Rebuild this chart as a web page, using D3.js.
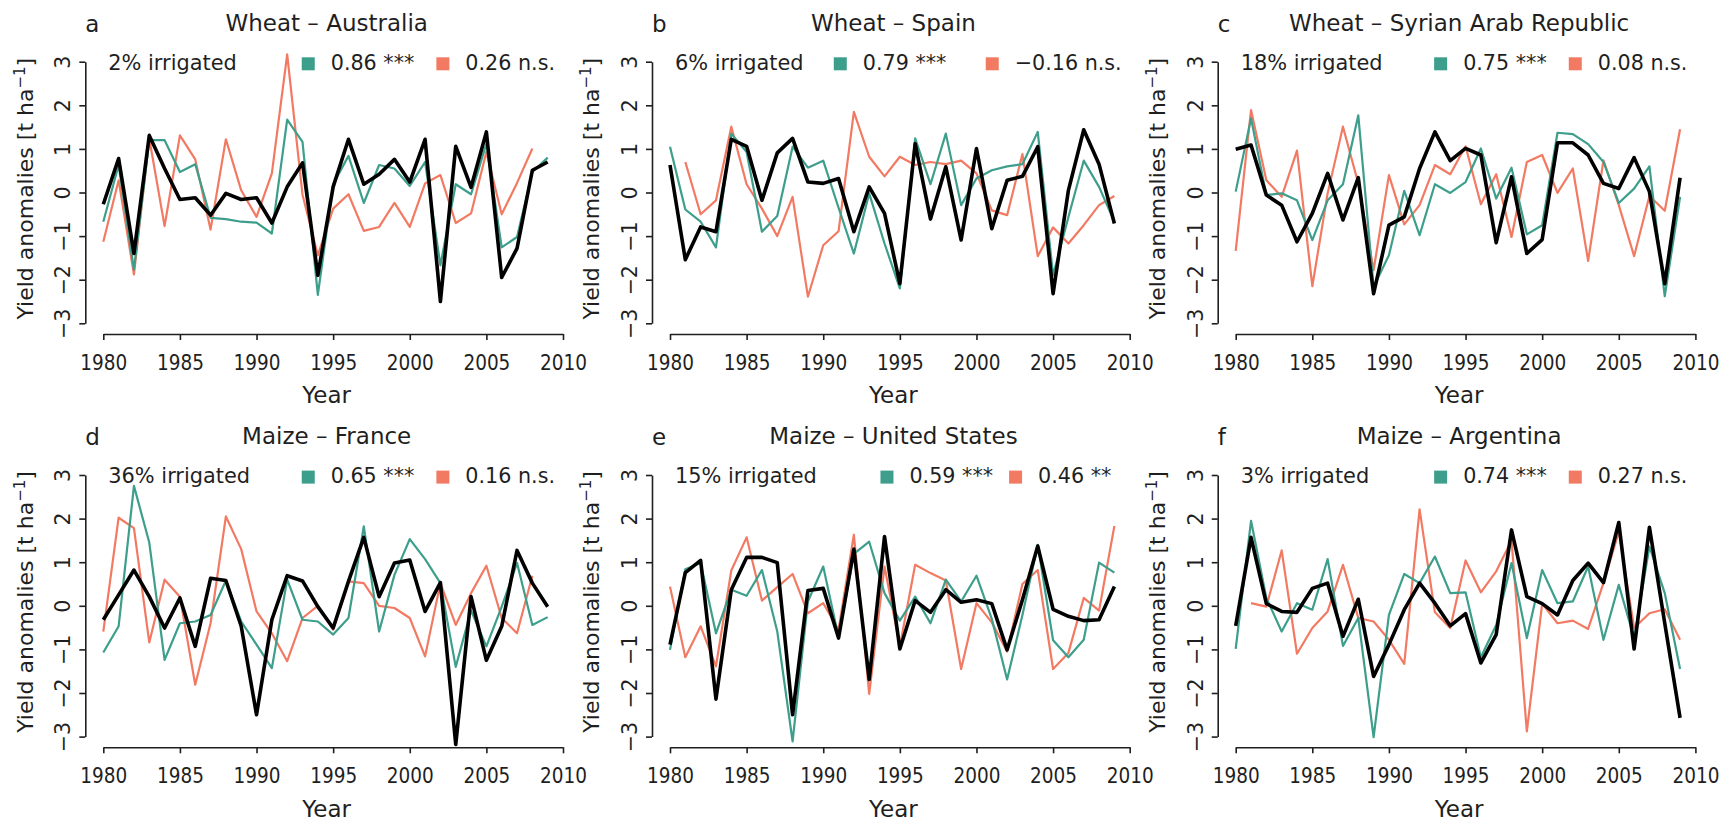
<!DOCTYPE html>
<html>
<head>
<meta charset="utf-8">
<script src="https://cdn.jsdelivr.net/npm/d3@7/dist/d3.min.js"></script>
<style>
  body { margin: 0; background: #fff; }
  text { font-family: "DejaVu Sans", "Bitstream Vera Sans", sans-serif; fill: #1f1f1f; }
</style>
</head>
<body>
<svg id="chart" width="1728" height="823"></svg>
<script>
// ---- data -------------------------------------------------------------
const years = [1980,1981,1982,1983,1984,1985,1986,1987,1988,1989,
               1990,1991,1992,1993,1994,1995,1996,1997,1998,1999,
               2000,2001,2002,2003,2004,2005,2006,2007,2008,2009];
const xTickYears = [1980, 1985, 1990, 1995, 2000, 2005, 2010];
const yTickValues = [-3, -2, -1, 0, 1, 2, 3];

const panelLetters = ["a", "b", "c", "d", "e", "f"];
const panelTitles = ["Wheat \u2013 Australia", "Wheat \u2013 Spain", "Wheat \u2013 Syrian Arab Republic",
                     "Maize \u2013 France", "Maize \u2013 United States", "Maize \u2013 Argentina"];
const irrigatedLabels = ["2% irrigated", "6% irrigated", "18% irrigated",
                         "36% irrigated", "15% irrigated", "3% irrigated"];
const greenCorr = ["0.86 ***", "0.79 ***", "0.75 ***", "0.65 ***", "0.59 ***", "0.74 ***"];
const redCorr = ["0.26 n.s.", "\u22120.16 n.s.", "0.08 n.s.", "0.16 n.s.", "0.46 **", "0.27 n.s."];

// Wheat – Australia
const ausObserved = [-0.27,0.78,-1.4,1.31,0.55,-0.16,-0.12,-0.52,-0.02,-0.16,
                     -0.12,-0.7,0.13,0.68,-1.9,0.13,1.22,0.19,0.42,0.76,
                     0.24,1.22,-2.5,1.06,0.12,1.39,-1.95,-1.28,0.51,0.7];
const ausGreen = [-0.67,0.63,-1.77,1.2,1.2,0.47,0.65,-0.58,-0.61,-0.67,
                  -0.69,-0.94,1.67,1.16,-2.35,0.19,0.84,-0.24,0.63,0.55,
                  0.15,0.7,-1.67,0.19,-0.04,1.12,-1.26,-1.02,0.47,0.8];
const ausRed = [-1.13,0.28,-1.88,1.24,-0.77,1.31,0.76,-0.85,1.22,0.05,
                -0.56,0.44,3.17,-0.05,-1.44,-0.37,-0.04,-0.88,-0.79,-0.24,
                -0.79,0.21,0.4,-0.7,-0.48,0.93,-0.5,0.22,1.01,null];

// Wheat – Spain
const espObserved = [0.63,-1.54,-0.79,-0.9,1.22,1.06,-0.18,0.91,1.24,0.24,
                     0.21,0.32,-0.9,0.13,-0.48,-2.09,1.12,-0.61,0.59,-1.09,
                     1.01,-0.83,0.28,0.37,1.05,-2.32,0.05,1.44,0.65,-0.71];
const espGreen = [1.05,-0.39,-0.67,-1.26,1.35,0.93,-0.9,-0.54,1.05,0.57,
                  0.73,-0.35,-1.4,-0.02,-1.17,-2.2,1.24,0.19,1.35,-0.29,
                  0.32,0.51,0.6,0.65,1.39,-1.9,-0.56,0.73,0.13,-0.67];
const espRed = [null,0.7,-0.5,-0.18,1.51,0.19,-0.37,-1.0,-0.1,-2.39,
                -1.21,-0.89,1.85,0.82,0.37,0.82,0.63,0.7,0.65,0.73,
                0.44,-0.41,-0.52,0.88,-1.46,-0.8,-1.17,-0.75,-0.29,-0.08];

// Wheat – Syrian Arab Republic
const syrObserved = [0.99,1.09,-0.06,-0.29,-1.13,-0.48,0.44,-0.63,0.34,-2.32,
                     -0.75,-0.56,0.55,1.39,0.73,1.01,0.86,-1.15,0.36,-1.4,
                     -1.08,1.14,1.14,0.86,0.21,0.09,0.8,0.02,-2.09,0.34];
const syrGreen = [0.02,1.7,-0.06,-0.02,-0.18,-1.09,-0.18,0.19,1.77,-2.16,
                  -1.44,0.04,-0.98,0.19,-0.01,0.24,1.01,-0.14,0.57,-0.96,
                  -0.75,1.37,1.34,1.11,0.7,-0.24,0.09,0.6,-2.38,-0.1];
const syrRed = [-1.34,1.89,0.28,-0.1,0.96,-2.15,-0.02,1.51,0.21,-1.78,
                0.4,-0.73,-0.29,0.63,0.42,1.06,-0.27,0.42,-1.02,0.7,
                0.86,-0.01,0.55,-1.57,0.74,-0.29,-1.46,-0.08,-0.42,1.45];

// Maize – France
const fraObserved = [-0.32,0.25,0.82,0.21,-0.51,0.18,-0.93,0.63,0.58,-0.47,
                     -2.5,-0.32,0.69,0.57,-0.02,-0.51,0.56,1.57,0.21,0.98,
                     1.05,-0.13,0.53,-3.18,0.21,-1.25,-0.47,1.27,0.52,-0.02];
const fraGreen = [-1.07,-0.47,2.75,1.45,-1.24,-0.4,-0.36,-0.21,0.58,-0.36,
                  -0.89,-1.43,0.6,-0.32,-0.36,-0.66,-0.28,1.82,-0.59,0.71,
                  1.53,1.07,0.52,-1.4,-0.11,-0.93,-0.02,0.98,-0.44,-0.26];
const fraRed = [-0.59,2.02,1.78,-0.84,0.6,0.21,-1.81,-0.4,2.05,1.3,
                -0.13,-0.63,-1.27,-0.28,0.0,-0.55,0.56,0.52,0.0,-0.05,
                -0.28,-1.16,0.52,-0.44,0.29,0.92,-0.28,-0.63,0.69,null];

// Maize – United States
const usaObserved = [-0.89,0.76,1.04,-2.14,0.37,1.11,1.11,0.99,-2.5,0.35,
                     0.4,-0.74,1.3,-1.69,1.59,-0.99,0.12,-0.15,0.37,0.08,
                     0.14,0.05,-1.01,0.14,1.37,-0.08,-0.24,-0.34,-0.32,0.44];
const usaGreen = [-1.01,0.84,0.98,-0.63,0.37,0.23,0.82,-0.59,-3.11,0.1,
                  0.9,-0.72,1.19,1.47,0.29,-0.34,0.21,-0.4,0.6,0.1,
                  0.69,-0.3,-1.69,-0.21,1.4,-0.79,-1.18,-0.78,0.99,0.76];
const usaRed = [0.44,-1.18,-0.47,-1.39,0.81,1.57,0.12,0.43,0.73,-0.17,
                0.06,-0.55,1.63,-2.02,0.9,-0.93,0.94,0.75,0.58,-1.45,
                0.06,-0.38,-1.05,0.5,0.82,-1.45,-1.08,0.18,-0.11,1.83];

// Maize – Argentina
const argObserved = [-0.46,1.57,0.05,-0.13,-0.15,0.4,0.52,-0.7,0.15,-1.62,
                     -0.89,-0.09,0.52,0.06,-0.46,-0.18,-1.31,-0.66,1.74,0.21,
                     0.05,-0.21,0.58,0.98,0.53,1.91,-0.99,1.8,-0.4,-2.57];
const argGreen = [-0.99,1.95,0.18,-0.59,0.06,-0.09,1.07,-0.92,-0.28,-3.01,
                  -0.21,0.73,0.52,1.13,0.29,0.31,-1.18,-0.44,0.98,-0.74,
                  0.82,0.06,0.1,0.9,-0.78,0.48,-0.74,1.36,0.29,-1.45];
const argRed = [null,0.06,-0.02,1.27,-1.1,-0.51,-0.13,0.94,-0.28,-0.36,
                -0.78,-1.33,2.21,-0.15,-0.51,1.04,0.31,0.79,1.5,-2.88,
                0.05,-0.4,-0.34,-0.53,0.52,1.7,-0.51,-0.17,-0.08,-0.78];

const observedSeries = [ausObserved, espObserved, syrObserved, fraObserved, usaObserved, argObserved];
const greenSeries = [ausGreen, espGreen, syrGreen, fraGreen, usaGreen, argGreen];
const redSeries = [ausRed, espRed, syrRed, fraRed, usaRed, argRed];

// ---- layout & style ------------------------------------------------------
const colLeft = [103.3, 670, 1235.7];   // pixel of the first year tick in each column
const rowTop = [61.7, 475];             // pixel of the top y tick in each row
const plotW = 459.7;
const plotH = 261.6;
const spineGapX = 18;                   // y spine sits left of the first year
const spineGapY = 10.7;                 // x spine sits below the lowest y tick

const GREEN = "#3d9e8c";
const RED = "#f27a63";
const INK = "#1f1f1f";

const svg = d3.select("#chart");
svg.append("rect").attr("width", 1728).attr("height", 823).attr("fill", "#fff");

// horizontally squeezed text helper
function label(g, x, y, str, size, sx, anchor) {
  return g.append("text")
    .attr("transform", `translate(${x},${y}) scale(${sx},1)`)
    .attr("font-size", size)
    .attr("text-anchor", anchor || "start")
    .text(str);
}

panelTitles.forEach((title, i) => {
  const col = i % 3, row = Math.floor(i / 3);
  const x0 = colLeft[col], top = rowTop[row];
  const x = d3.scaleLinear().domain([1980, 2010]).range([x0, x0 + plotW]);
  const y = d3.scaleLinear().domain([-3, 3]).range([top + plotH, top]);
  const spineX = x0 - spineGapX;
  const axisY = top + plotH + spineGapY;
  const centerX = x0 + 223.4;
  const g = svg.append("g");

  // x axis
  const xAxis = g.append("g")
    .attr("transform", `translate(0,${axisY})`)
    .call(d3.axisBottom(x).tickValues(xTickYears).tickFormat(d3.format("d"))
      .tickSize(6).tickSizeOuter(0));
  xAxis.select(".domain").attr("stroke", INK).attr("stroke-width", 1.6);
  xAxis.selectAll(".tick line").attr("stroke", INK).attr("stroke-width", 1.6);
  xAxis.selectAll(".tick text")
    .attr("y", 36).attr("dy", null)
    .attr("font-size", 20.5)
    .attr("font-family", "DejaVu Sans, sans-serif")
    .attr("fill", INK)
    .attr("transform", "scale(0.9,1)");

  // y axis with rotated tick labels
  const yAxis = g.append("g")
    .attr("transform", `translate(${spineX},0)`)
    .call(d3.axisLeft(y).tickValues(yTickValues)
      .tickFormat(d => d < 0 ? "\u2212" + Math.abs(d) : String(d))
      .tickSize(6).tickSizeOuter(0));
  yAxis.select(".domain").attr("stroke", INK).attr("stroke-width", 1.6);
  yAxis.selectAll(".tick line").attr("stroke", INK).attr("stroke-width", 1.6);
  yAxis.selectAll(".tick text")
    .attr("x", null).attr("dy", null)
    .attr("text-anchor", "middle")
    .attr("font-size", 20.5)
    .attr("font-family", "DejaVu Sans, sans-serif")
    .attr("fill", INK)
    .attr("transform", "translate(-15,0) rotate(-90)");

  // axis titles
  const yl = g.append("text")
    .attr("transform", `translate(${spineX - 52.7},${top + 127}) rotate(-90)`)
    .attr("font-size", 22)
    .attr("text-anchor", "middle");
  yl.append("tspan").text("Yield anomalies [t ha");
  yl.append("tspan").attr("font-size", 15).attr("dy", -8).text("\u22121");
  yl.append("tspan").attr("dy", 8).text("]");

  label(g, centerX, axisY + 69.3, "Year", 23, 1, "middle");
  label(g, centerX, top - 31, title, 23, 1, "middle");
  label(g, spineX, top - 30, panelLetters[i], 23, 1, "start");
  label(g, x0 + 5, top + 8.3, irrigatedLabels[i], 22, 0.95, "start");

  // legend: two equal-width columns, right-aligned
  const sx = 0.94, sq = 13, pad = 16, colGap = 16;
  const baseY = top + 8.3;
  const tGreen = label(g, 0, baseY, greenCorr[i], 22, sx, "start");
  const tRed = label(g, 0, baseY, redCorr[i], 22, sx, "start");
  const w = Math.max(tGreen.node().getComputedTextLength(), tRed.node().getComputedTextLength()) * sx;
  const right = x0 + plotW - 8;
  const redTextX = right - w;
  const redSqX = redTextX - pad - sq;
  const greenTextX = redSqX - colGap - w;
  const greenSqX = greenTextX - pad - sq;
  tRed.attr("transform", `translate(${redTextX},${baseY}) scale(${sx},1)`);
  tGreen.attr("transform", `translate(${greenTextX},${baseY}) scale(${sx},1)`);
  g.append("rect").attr("x", greenSqX).attr("y", baseY - 12.7).attr("width", sq).attr("height", sq).attr("fill", GREEN);
  g.append("rect").attr("x", redSqX).attr("y", baseY - 12.7).attr("width", sq).attr("height", sq).attr("fill", RED);

  // series
  const line = d3.line()
    .defined(d => d.v !== null)
    .x(d => x(d.year))
    .y(d => y(d.v));
  const pts = arr => years.map((yr, k) => ({ year: yr, v: arr[k] }));
  g.append("path").attr("d", line(pts(redSeries[i])))
    .attr("fill", "none").attr("stroke", RED).attr("stroke-width", 2.2).attr("stroke-linejoin", "round");
  g.append("path").attr("d", line(pts(greenSeries[i])))
    .attr("fill", "none").attr("stroke", GREEN).attr("stroke-width", 2.2).attr("stroke-linejoin", "round");
  g.append("path").attr("d", line(pts(observedSeries[i])))
    .attr("fill", "none").attr("stroke", "#000").attr("stroke-width", 3.6).attr("stroke-linejoin", "round");
});
</script>
</body>
</html>
